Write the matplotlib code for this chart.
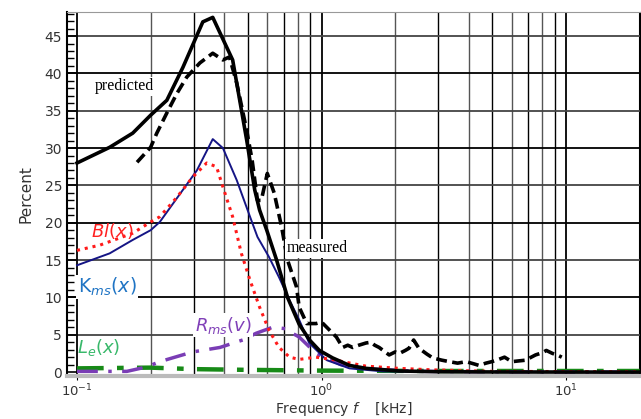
import numpy as np
import matplotlib
matplotlib.use("Agg")
import matplotlib.pyplot as plt
from matplotlib.ticker import LogLocator, FixedLocator, NullFormatter

###############
# values (frequency in kHz, distortion in percent)
pred_f = [0.1, 0.136, 0.169, 0.2, 0.233, 0.271, 0.327, 0.359, 0.433, 0.494, 0.533,
          0.558, 0.597, 0.655, 0.726, 0.81, 0.893, 0.98, 1.11, 1.30, 1.52, 2.08, 3.0, 5.0, 10.0, 20.0]
pred_y = [28.0, 30.1, 32.0, 34.4, 36.4, 40.8, 46.9, 47.5, 41.8, 31.1, 24.4,
          21.7, 19.0, 15.0, 10.0, 6.4, 4.3, 2.9, 1.9, 0.9, 0.5, 0.15, 0.05, 0.02, 0.01, 0.0]

meas_f = [0.176, 0.2, 0.212, 0.233, 0.256, 0.281, 0.318, 0.359, 0.395, 0.42, 0.45, 0.494,
          0.52, 0.547, 0.567, 0.6, 0.64, 0.687, 0.726, 0.79, 0.81, 0.87, 0.95, 1.0, 1.08,
          1.15, 1.22, 1.28, 1.34, 1.42, 1.52, 1.59, 1.65, 1.72, 1.89, 2.0, 2.08, 2.2, 2.28,
          2.38, 2.5, 2.7, 2.85, 3.1, 3.33, 3.6, 3.9, 4.2, 4.4, 4.7, 4.97, 5.3, 5.6, 6.0,
          6.4, 6.85, 7.2, 7.5, 8.0, 8.3, 8.8, 9.2, 9.6]
meas_y = [28.1, 30.1, 32.0, 34.7, 37.3, 39.5, 41.4, 42.7, 41.8, 42.2, 38.7, 32.4,
          28.4, 23.0, 23.0, 26.6, 24.0, 19.4, 15.0, 11.4, 8.7, 6.5, 6.5, 6.7, 5.6,
          4.7, 3.3, 3.6, 3.3, 3.6, 3.9, 4.0, 3.6, 3.3, 2.3, 2.7, 2.5, 2.9, 3.2,
          4.3, 3.2, 2.4, 1.9, 1.6, 1.4, 1.2, 1.4, 1.1, 0.9, 1.2, 1.4, 1.7, 2.0, 1.4,
          1.5, 1.6, 2.0, 2.3, 2.6, 2.9, 2.5, 2.3, 2.0]

kms_f = [0.1, 0.136, 0.169, 0.2, 0.218, 0.271, 0.309, 0.359, 0.395, 0.45, 0.51, 0.547,
         0.61, 0.67, 0.74, 0.81, 0.89, 1.05, 1.30, 1.78, 3.0, 10.0, 20.0]
kms_y = [14.3, 15.9, 17.7, 19.0, 20.1, 24.4, 27.0, 31.2, 30.0, 25.7, 20.8, 18.1,
         15.4, 12.7, 9.6, 7.0, 3.9, 1.6, 0.5, 0.1, 0.03, 0.0, 0.0]

bl_f = [0.1, 0.124, 0.169, 0.2, 0.218, 0.256, 0.297, 0.339, 0.372, 0.395, 0.433, 0.47,
        0.51, 0.558, 0.61, 0.67, 0.74, 0.81, 0.95, 1.15, 1.22, 1.52, 2.08, 2.85, 5.0, 20.0]
bl_y = [16.3, 17.0, 18.6, 20.1, 20.8, 23.4, 26.1, 28.0, 27.5, 24.8, 20.8, 15.9,
        12.3, 8.7, 5.6, 3.3, 2.0, 1.7, 2.0, 1.6, 1.4, 0.8, 0.5, 0.3, 0.1, 0.05]

rms_f = [0.1, 0.16, 0.193, 0.218, 0.297, 0.384, 0.476, 0.54, 0.63, 0.72, 0.76, 0.81,
         0.95, 1.2, 1.6, 2.5, 5.0, 20.0]
rms_y = [0.1, 0.1, 0.7, 1.4, 2.7, 3.3, 4.3, 5.2, 6.0, 5.8, 5.2, 4.7,
         2.5, 1.0, 0.4, 0.1, 0.05, 0.0]

le_f = [0.1, 0.2, 0.3, 0.5, 1.0, 3.0, 20.0]
le_y = [0.5, 0.6, 0.4, 0.3, 0.2, 0.15, 0.15]

yticks = [0, 5, 10, 15, 20, 25, 30, 35, 40, 45]
xticks = [0.1, 1, 10]
xtick_labels = [r'$10^{-1}$', r'$10^{0}$', r'$10^{1}$']

###############
# figure
fig = plt.figure(figsize=(6.41, 4.19), dpi=100)
ax = fig.add_axes([0.1045, 0.103, 0.8935, 0.868])
ax.set_xscale('log')
ax.set_xlim(0.091, 20)
ax.set_ylim(-0.5, 48.2)

# grid: decades and in-between lines, horizontal every 5 %
for d in [0.1, 1.0, 10.0]:
    for k in range(1, 10):
        f = d * k
        if f < 0.091 or f > 20:
            continue
        ax.axvline(f, color='black' if k % 2 else '#555555', lw=1.3 if k == 1 else 1.0, zorder=0)
ax.axvline(20, color='black', lw=1.5, zorder=0)
for i, yv in enumerate(yticks[1:]):
    ax.axhline(yv, color='black' if i % 2 else '#444444', lw=1.3, zorder=0)

ax.plot(le_f, le_y, color='#178a17', lw=3.2, ls=(0, (6, 3, 1.5, 3)), zorder=2)
ax.plot(rms_f, rms_y, color='#7a3db5', lw=2.5, ls=(0, (6, 3, 1, 3)), zorder=3)
ax.plot(kms_f, kms_y, color='#151585', lw=1.4, zorder=4)
ax.plot(bl_f, bl_y, color='#ff1a1a', lw=2.2, ls=(0, (1, 1.6)), zorder=5)
ax.plot(pred_f, pred_y, color='black', lw=2.6, zorder=6)
ax.plot(meas_f, meas_y, color='black', lw=2.6, ls=(0, (3, 1.5)), zorder=7)

# annotations
box = dict(facecolor='white', edgecolor='none', pad=1)
ax.text(0.157, 38.3, 'predicted', family='Liberation Serif', fontsize=11.5,
        ha='center', va='center', bbox=box, zorder=8)
ax.text(0.72, 16.6, 'measured', family='Liberation Serif', fontsize=11.5,
        ha='left', va='center', bbox=box, zorder=8)
ax.text(0.139, 18.9, r'$Bl(x)$', color='#ff2020', fontsize=13,
        ha='center', va='center', zorder=8)
ax.text(0.1005, 11.4, r'$\mathrm{K}_{ms}(x)$', color='#1f74c4', fontsize=13.5,
        ha='left', va='center', bbox=box, zorder=8)
ax.text(0.303, 6.3, r'$R_{ms}(v)$', color='#8040b8', fontsize=13,
        ha='left', va='center', bbox=box, zorder=8)
ax.text(0.1, 3.3, r'$L_e(x)$', color='#38b86a', fontsize=13,
        ha='left', va='center', zorder=8)

# axes and ticks
ax.set_yticks(yticks)
ax.yaxis.set_minor_locator(FixedLocator(np.arange(0, 49, 1)))
ax.tick_params(axis='y', which='major', direction='in', length=8, width=1.2,
               labelsize=10, labelcolor='#333333')
ax.tick_params(axis='y', which='minor', direction='in', length=5, width=1)
ax.set_xticks(xticks)
ax.set_xticklabels(xtick_labels)
ax.xaxis.set_minor_locator(LogLocator(base=10, subs=[]))
ax.xaxis.set_minor_formatter(NullFormatter())
ax.tick_params(axis='x', which='major', direction='out', length=3, labelsize=9.5,
               labelcolor='#333333', pad=2)

ax.spines['bottom'].set_color('#bbbbbb')
ax.spines['bottom'].set_linewidth(3)
ax.spines['top'].set_color('#999999')
ax.spines['right'].set_color('black')
ax.spines['left'].set_linewidth(1.5)

ax.set_xlabel(r'Frequency $f$    [kHz]', fontsize=10, color='#333333')
ax.xaxis.set_label_coords(0.483, -0.1026)
ax.xaxis.label.set_va('baseline')
ax.set_ylabel('Percent', fontsize=11, color='#333333', labelpad=8)

fig.savefig('out.png', dpi=100)
